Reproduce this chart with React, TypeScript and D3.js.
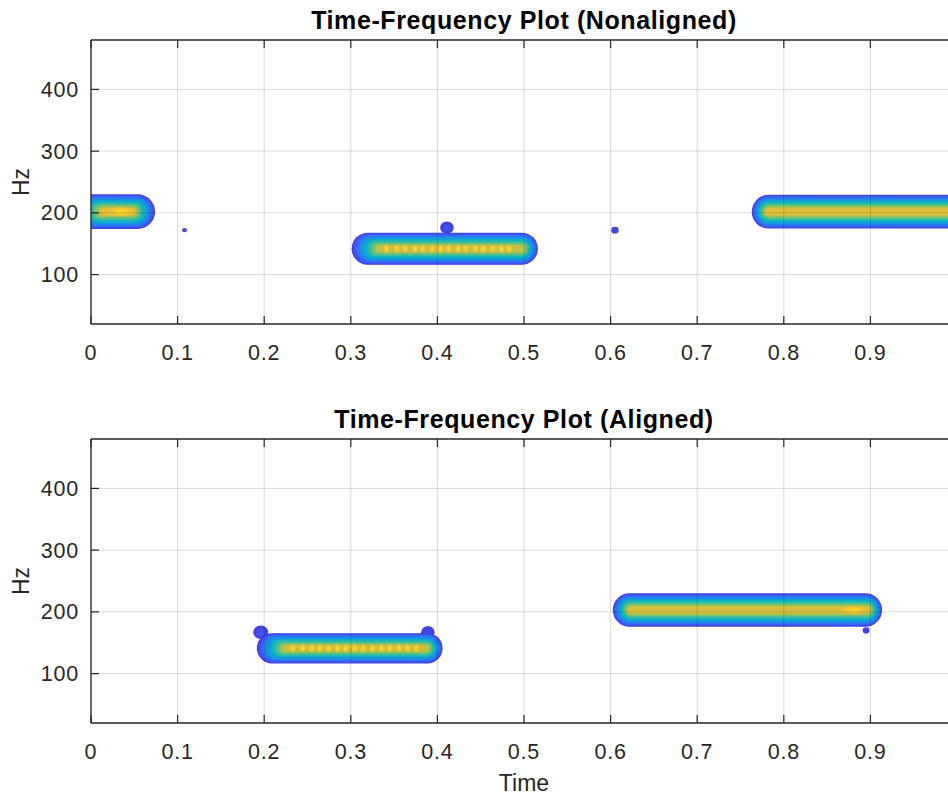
import React from 'react';
import * as d3 from 'd3';

const W = 948;
const H = 795;

const timeTicks = [0, 0.1, 0.2, 0.3, 0.4, 0.5, 0.6, 0.7, 0.8, 0.9];
const hzTicks = [100, 200, 300, 400];
const timeDomain = [0, 1];
const hzDomain = [20, 480];
const panelTitles = ['Time-Frequency Plot (Nonaligned)', 'Time-Frequency Plot (Aligned)'];
const xLabel = 'Time';
const yLabel = 'Hz';

// ridges: [rimStart, rimEnd, coreStart, coreEnd, centreHz, halfBandHz, peakLevel]
const nonalignedRidges = [
  [-0.02, 0.074, 0.012, 0.05, 202, 28, 0.8],
  [0.301, 0.516, 0.33, 0.5, 142, 26, 0.74],
  [0.763, 1.2, 0.779, 1.2, 202, 27.5, 0.79],
];
const alignedRidges = [
  [0.1915, 0.406, 0.222, 0.39, 141, 24.5, 0.74],
  [0.6025, 0.9135, 0.62, 0.9, 203, 27, 0.77],
];
// blips: [time, Hz, radiusHz, level]
const nonalignedBlips = [
  [0.108, 172, 3.5, 0.1],
  [0.605, 172, 5.5, 0.12],
  [0.411, 176, 10, 0.14],
  [0.805, 184, 8, 0.1],
];
const alignedBlips = [
  [0.196, 167, 11, 0.14],
  [0.389, 167, 10, 0.12],
  [0.895, 170, 5, 0.1],
];
// hot spots: [time, Hz, halfWidthTime, halfHeightHz, level]
const nonalignedHot = [[0.035, 202, 0.014, 7, 0.9]];
const alignedHot = [[0.88, 203, 0.016, 7, 0.88]];
// harmonic frame peaks: times of bright dots along ridge centre
const nonalignedPulseTimes = [0.341, 0.353, 0.363, 0.374, 0.383, 0.394, 0.404, 0.413, 0.424, 0.433, 0.444, 0.453, 0.464, 0.474, 0.483];
const nonalignedPulseHz = 142;
const alignedPulseTimes = [0.2334, 0.2443, 0.2547, 0.2643, 0.2746, 0.2847, 0.2943, 0.3046, 0.3142, 0.325, 0.3354, 0.345, 0.3554, 0.3654, 0.3758];
const alignedPulseHz = 141;

const parulaStops = ['#3e26a8', '#4743e8', '#3568f5', '#1e8ae8', '#0ca7d4', '#1fb9b1', '#5bc281', '#a9c152', '#eabf35', '#fbd52a', '#f9fb15'];
const parula = d3.piecewise(d3.interpolateRgb, parulaStops);

const FONT = '"Liberation Sans", Arial, Helvetica, sans-serif';
const AX = '#262626';

const panels = [
  { top: 40, bottom: 324, title: panelTitles[0], ridges: nonalignedRidges, blips: nonalignedBlips, hot: nonalignedHot, pulses: nonalignedPulseTimes, pulseHz: nonalignedPulseHz, pulseLevel: 0.86, showX: false },
  { top: 439, bottom: 723, title: panelTitles[1], ridges: alignedRidges, blips: alignedBlips, hot: alignedHot, pulses: alignedPulseTimes, pulseHz: alignedPulseHz, pulseLevel: 0.86, showX: true },
];

const LEFT = 91;
const RIGHT = 957;
const RIM = 0.085;

function Ridge({ r, x, y }: any) {
  const [t0, t1, c0, c1, f, hw, peak] = r;
  const K = 24;
  const yc = y(f);
  const hpx = Math.abs(y(f + hw) - yc);
  const coreHalf = 3;
  const bands = d3.range(K).map((k) => {
    const u = k / (K - 1);
    const v = RIM + u * (peak - RIM);
    const h = coreHalf + (hpx - coreHalf) * (1 - u);
    const left = x(t0) + u * (x(c0) - x(t0));
    const right = x(t1) + u * (x(c1) - x(t1));
    const w = Math.max(0, right - left);
    const rr = Math.min(h, w / 2);
    return <rect key={k} x={left} y={yc - h} width={w} height={2 * h} rx={rr} ry={rr} fill={parula(v)} />;
  });
  return <g>{bands}</g>;
}

function Panel({ p, x }: any) {
  const y = d3.scaleLinear().domain(hzDomain).range([p.bottom, p.top]);
  const clipId = 'clip' + p.top;
  const ph = Math.abs(y(p.pulseHz) - y(p.pulseHz + 1));
  return (
    <g>
      <defs>
        <clipPath id={clipId}>
          <rect x={LEFT} y={p.top} width={RIGHT - LEFT} height={p.bottom - p.top} />
        </clipPath>
      </defs>
      <rect x={LEFT} y={p.top} width={RIGHT - LEFT} height={p.bottom - p.top} fill="#fff" />
      <g clipPath={`url(#${clipId})`}>
        <g filter="url(#soft)">
          {p.blips.map((b: any, i: number) => {
            const r = Math.abs(y(b[1] + b[2]) - y(b[1]));
            return (
              <g key={'b' + i}>
                <ellipse cx={x(b[0])} cy={y(b[1])} rx={r * 1.1} ry={r} fill={parula(RIM)} />
                <ellipse cx={x(b[0])} cy={y(b[1])} rx={r * 0.6} ry={r * 0.55} fill={parula(b[3])} />
              </g>
            );
          })}
          {p.ridges.map((r: any, i: number) => <Ridge key={'r' + i} r={r} x={x} y={y} />)}
          {p.hot.map((h: any, i: number) => {
            const rx = x(h[0] + h[2]) - x(h[0]);
            const ry = Math.abs(y(h[1] + h[3]) - y(h[1]));
            return d3.range(4).map((k) => (
              <ellipse key={'h' + i + '-' + k} cx={x(h[0])} cy={y(h[1])} rx={rx * (1 - k * 0.22)} ry={ry * (1 - k * 0.22)} fill={parula(h[4] - (3 - k) * 0.03)} />
            ));
          })}
          {p.pulses.map((t: number, i: number) => (
            <g key={'p' + i}>
              <ellipse cx={x(t)} cy={y(p.pulseHz)} rx={2.8} ry={ph * 6} fill={parula(p.pulseLevel - 0.04)} />
              <ellipse cx={x(t)} cy={y(p.pulseHz)} rx={1.6} ry={ph * 4} fill={parula(p.pulseLevel + 0.03)} />
            </g>
          ))}
        </g>
      </g>
      {/* grid */}
      {timeTicks.map((t) => (
        <line key={'gx' + t} x1={x(t)} x2={x(t)} y1={p.top} y2={p.bottom} stroke="#000" strokeOpacity={0.15} strokeWidth={1} />
      ))}
      {hzTicks.map((v) => (
        <line key={'gy' + v} x1={LEFT} x2={RIGHT} y1={y(v)} y2={y(v)} stroke="#000" strokeOpacity={0.15} strokeWidth={1} />
      ))}
      {/* axes box */}
      <line x1={LEFT} x2={RIGHT} y1={p.top} y2={p.top} stroke={AX} strokeWidth={1.3} />
      <line x1={LEFT} x2={RIGHT} y1={p.bottom} y2={p.bottom} stroke={AX} strokeWidth={1.3} />
      <line x1={LEFT} x2={LEFT} y1={p.top} y2={p.bottom} stroke={AX} strokeWidth={1.3} />
      <line x1={RIGHT} x2={RIGHT} y1={p.top} y2={p.bottom} stroke={AX} strokeWidth={1.3} />
      {timeTicks.map((t) => (
        <g key={'tx' + t}>
          <line x1={x(t)} x2={x(t)} y1={p.bottom} y2={p.bottom - 8} stroke={AX} strokeWidth={1.2} />
          <line x1={x(t)} x2={x(t)} y1={p.top} y2={p.top + 8} stroke={AX} strokeWidth={1.2} />
          <text x={x(t)} y={p.bottom + 36} textAnchor="middle" fontFamily={FONT} fontSize={21.5} letterSpacing={0.8} fill={AX}>{String(t)}</text>
        </g>
      ))}
      {hzTicks.map((v) => (
        <g key={'ty' + v}>
          <line x1={LEFT} x2={LEFT + 8} y1={y(v)} y2={y(v)} stroke={AX} strokeWidth={1.2} />
          <text x={79} y={y(v) + 7.5} textAnchor="end" fontFamily={FONT} fontSize={21.5} letterSpacing={0.8} fill={AX}>{v}</text>
        </g>
      ))}
      <text x={(LEFT + RIGHT) / 2} y={p.top - 11} textAnchor="middle" fontFamily={FONT} fontSize={25} letterSpacing={0.6} fontWeight="bold" fill="#000">{p.title}</text>
      <text transform={`translate(29,${(p.top + p.bottom) / 2}) rotate(-90)`} textAnchor="middle" fontFamily={FONT} fontSize={23} fill={AX}>{yLabel}</text>
      {p.showX && (
        <text x={(LEFT + RIGHT) / 2} y={p.bottom + 68} textAnchor="middle" fontFamily={FONT} fontSize={23} fill={AX}>{xLabel}</text>
      )}
    </g>
  );
}

export default function App() {
  const x = d3.scaleLinear().domain(timeDomain).range([LEFT, RIGHT]);
  return (
    <svg width={W} height={H} style={{ position: 'absolute', left: 0, top: 0, display: 'block', background: '#fff' }}>
      <defs>
        <filter id="soft" x="-5%" y="-20%" width="110%" height="140%">
          <feGaussianBlur stdDeviation={0.7} />
        </filter>
      </defs>
      <rect width={W} height={H} fill="#fff" />
      {panels.map((p) => <Panel key={p.top} p={p} x={x} />)}
    </svg>
  );
}
